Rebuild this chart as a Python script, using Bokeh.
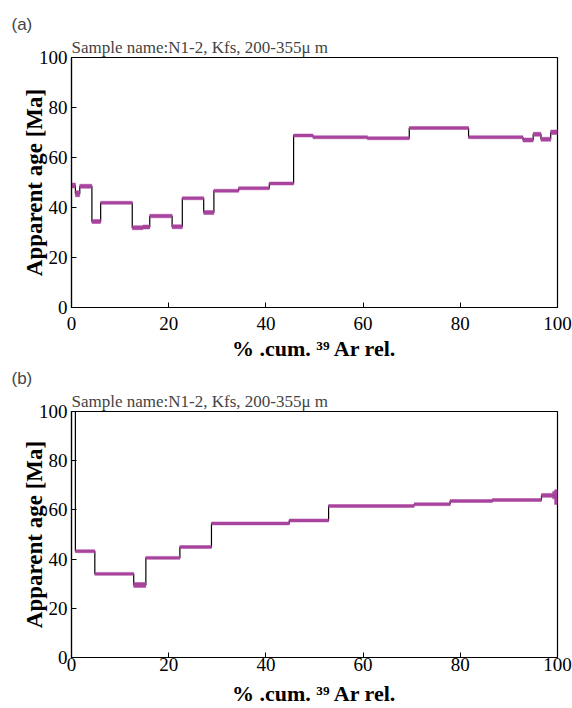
from bokeh.plotting import figure
from bokeh.layouts import column
from bokeh.models import Range1d, FixedTicker, Title, ColumnDataSource
from bokeh.embed import file_html
from bokeh.resources import INLINE

# ---- data ----
# panel (a): cumulative % 39Ar released (step edges), apparent ages [Ma], 1-sigma errors
cum_a = [0, 0.8, 1.7, 4.2, 6.0, 12.5, 14.7, 16.1, 20.7, 22.8, 27.2, 29.3, 34.4,
         40.7, 45.7, 49.7, 60.9, 69.5, 81.7, 92.9, 95.0, 96.6, 98.6, 100]
age_a = [48.8, 45.5, 48.5, 34.4, 41.9, 31.9, 32.2, 36.6, 32.3, 43.7, 38.0, 46.7,
         47.7, 49.6, 68.8, 68.1, 67.7, 71.8, 68.1, 67.0, 69.3, 67.3, 70.1]
err_a = [1.0, 1.2, 0.8, 0.8, 0.6, 0.8, 0.8, 0.7, 0.8, 0.6, 0.8, 0.6,
         0.6, 0.6, 0.6, 0.6, 0.6, 0.6, 0.6, 0.8, 0.8, 0.8, 0.9]

# panel (b)
cum_b = [0, 0.8, 4.8, 12.8, 15.3, 22.3, 28.8, 44.8, 52.9, 70.5, 77.9, 86.6,
         96.7, 99.0, 99.4, 100]
age_b = [150.0, 43.2, 34.0, 29.5, 40.5, 44.9, 54.5, 55.7, 61.6, 62.3, 63.6,
         64.0, 65.9, 66.0, 65.2]
err_b = [1.0, 0.6, 0.6, 1.0, 0.6, 0.6, 0.6, 0.6, 0.6, 0.6, 0.6, 0.6,
         0.8, 1.5, 3.0]

ticks = [0, 20, 40, 60, 80, 100]
sample_title = "Sample name:N1-2, Kfs, 200-355\u03bc m"
xlabel = "% .cum. \u00b3\u2079 Ar rel."
ylabel = "Apparent age [Ma]"

MAG = "#A8449E"
SERIF = "Liberation Serif"
SANS = "Liberation Sans"


def make_panel(cum, age, err, tag, height, border_top, border_bottom,
               tick_standoff, label_standoff):
    p = figure(width=572, height=height, output_backend="svg", toolbar_location=None,
               x_range=Range1d(0, 100), y_range=Range1d(0, 100),
               min_border_left=71, min_border_right=15,
               min_border_top=border_top, min_border_bottom=border_bottom)
    # outer title: panel tag
    p.title.text = tag
    p.title.text_font = SANS
    p.title.text_font_size = "17px"
    p.title.text_font_style = "normal"
    p.title.align = "left"
    p.title.offset = -60
    p.title.standoff = 4
    # inner title: sample name
    p.add_layout(Title(text=sample_title, text_font=SERIF, text_font_size="17px",
                       text_font_style="normal", align="left", offset=0,
                       standoff=1), "above")

    # step outline (black)
    xs, ys = [], []
    for i in range(len(age)):
        xs += [cum[i], cum[i + 1]]
        ys += [age[i], age[i]]
    p.line(xs, ys, line_color="black", line_width=1.2)

    # magenta error bands
    src = ColumnDataSource(dict(
        left=cum[:-1], right=cum[1:],
        bottom=[a - e for a, e in zip(age, err)],
        top=[a + e for a, e in zip(age, err)]))
    p.quad(left="left", right="right", bottom="bottom", top="top", source=src,
           fill_color=MAG, line_color=MAG, line_width=0.5)

    p.xgrid.visible = False
    p.ygrid.visible = False
    p.outline_line_color = "black"
    p.outline_line_width = 1.2
    p.background_fill_color = "white"
    p.border_fill_color = "white"

    for ax in (p.xaxis[0], p.yaxis[0]):
        ax.ticker = FixedTicker(ticks=ticks)
        ax.major_tick_in = 5
        ax.major_tick_out = 0
        ax.minor_tick_line_color = None
        ax.axis_line_color = "black"
        ax.axis_line_width = 1.2
        ax.major_tick_line_color = "black"
        ax.major_label_text_font = SERIF
        ax.major_label_text_font_size = "19px"
        ax.major_label_text_color = "black"
        ax.axis_label_text_font = SERIF
        ax.axis_label_text_font_style = "bold"
        ax.axis_label_text_color = "black"
    p.xaxis.axis_label = xlabel
    p.xaxis.axis_label_text_font_size = "22px"
    p.xaxis.major_label_standoff = tick_standoff
    p.xaxis.axis_label_standoff = label_standoff
    p.yaxis.axis_label = ylabel
    p.yaxis.axis_label_text_font_size = "23px"
    p.yaxis.major_label_standoff = 4
    p.yaxis.axis_label_standoff = -11
    return p


p1 = make_panel(cum_a, age_a, err_a, "(a)", 364, 57, 57, 9, 3)
p2 = make_panel(cum_b, age_b, err_b, "(b)", 344, 44, 50, 0, 7)

layout = column(p1, p2, spacing=0)
open("out.html", "w").write(file_html(layout, INLINE))
